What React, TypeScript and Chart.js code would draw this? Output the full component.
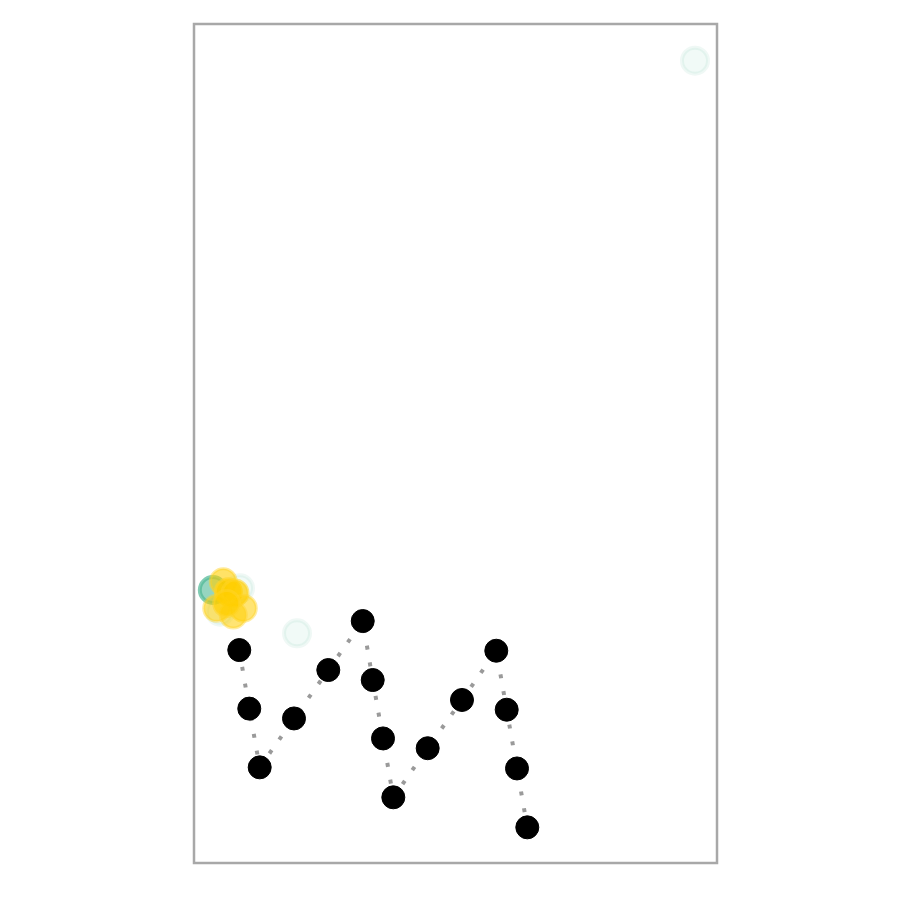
import React, { useEffect, useRef } from "react";
import { Chart, registerables } from "chart.js";

Chart.register(...registerables);

const pathX = [8.66, 10.57, 12.56, 19.12, 25.68, 32.26, 34.17, 36.14, 38.11, 44.68, 51.24, 57.8, 59.79, 61.76, 63.73];
const pathY = [25.38, 18.40, 11.40, 17.23, 23.0, 28.84, 21.81, 14.85, 7.83, 13.68, 19.43, 25.3, 18.27, 11.27, 4.25];

const greenX = [3.6, 8.8, 4.97, 19.7, 95.79];
const greenY = [32.54, 32.74, 29.95, 27.38, 95.63];
const greenAlpha = [0.6, 0.08, 0.08, 0.08, 0.08];

const yellowX = [5.6, 6.56, 7.84, 9.43, 4.34, 7.51, 6.25];
const yellowY = [33.53, 32.34, 32.18, 30.36, 30.36, 29.56, 30.94];
const yellowAlpha = [0.6, 0.85, 0.7, 0.55, 0.55, 0.55, 0.7];

const framePlugin = {
  id: "frame",
  afterDraw(chart: any) {
    const { ctx, chartArea } = chart;
    ctx.save();
    ctx.strokeStyle = "#a8a8a8";
    ctx.lineWidth = 2.5;
    ctx.strokeRect(chartArea.left, chartArea.top, chartArea.right - chartArea.left, chartArea.bottom - chartArea.top);
    ctx.restore();
  },
};

export default function App() {
  const ref = useRef<HTMLCanvasElement>(null);
  useEffect(() => {
    const pts = (xs: number[], ys: number[]) => xs.map((x, i) => ({ x, y: ys[i] }));
    const chart = new Chart(ref.current!, {
      type: "scatter",
      data: {
        datasets: [
          {
            data: pts(pathX, pathY),
            backgroundColor: "#000000",
            borderColor: "#000000",
            pointBorderWidth: 1,
            pointRadius: 11.5,
            showLine: false,
          },
          {
            data: pts(yellowX, yellowY),
            backgroundColor: yellowAlpha.map((a) => `rgba(255,206,0,${a})`),
            borderColor: yellowAlpha.map((a) => `rgba(255,212,40,${a * 0.8})`),
            borderWidth: 3,
            pointRadius: 13,
            showLine: false,
          },
          {
            data: pts(greenX, greenY),
            backgroundColor: greenAlpha.map((a) => `rgba(80,185,150,${a})`),
            borderColor: greenAlpha.map((a) => `rgba(80,185,150,${Math.min(1, a * 1.2)})`),
            borderWidth: 4,
            pointRadius: 13,
            showLine: false,
          },
          {
            data: pts(pathX, pathY),
            borderColor: "#9a9a9a",
            borderWidth: 4,
            borderDash: [4, 13],
            pointRadius: 0,
            showLine: true,
          } as any,
        ],
      },
      options: {
        animation: false,
        responsive: false,
        layout: { padding: { left: 194, right: 183, top: 24, bottom: 37 } },
        plugins: { legend: { display: false }, tooltip: { enabled: false } },
        scales: {
          x: { type: "linear", min: 0, max: 100, display: false },
          y: { type: "linear", min: 0, max: 100, display: false },
        },
      },
      plugins: [framePlugin],
    });
    return () => chart.destroy();
  }, []);
  return (
    <div style={{ position: "absolute", left: 0, top: 0, width: 900, height: 900, background: "#fff" }}>
      <canvas ref={ref} width={900} height={900} style={{ width: 900, height: 900 }} />
    </div>
  );
}
